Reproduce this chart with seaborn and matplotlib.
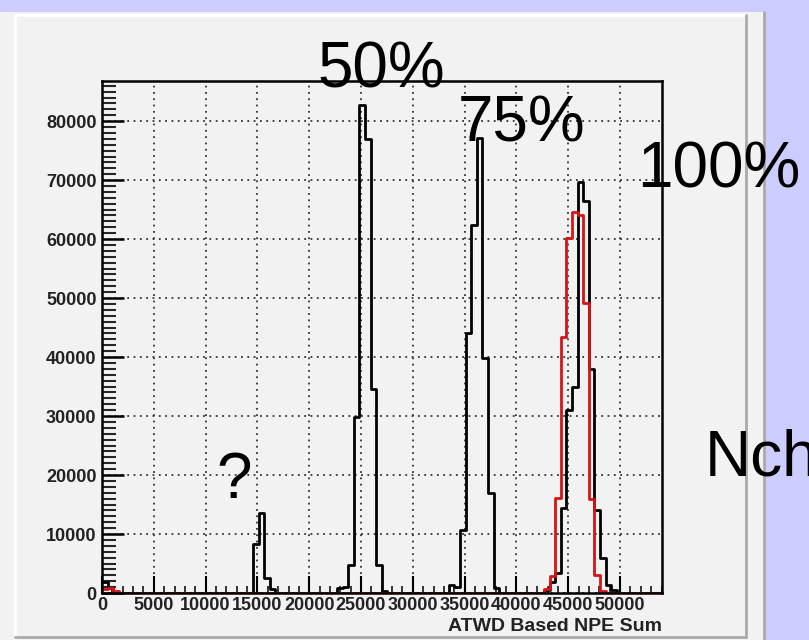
import numpy as np
import pandas as pd
import matplotlib
matplotlib.use('Agg')
import matplotlib.pyplot as plt
from matplotlib.patches import Rectangle
from matplotlib.lines import Line2D
from matplotlib.ticker import MultipleLocator
import seaborn as sns

# Histogram binning (NPE units)
x_max = 54000
n_bins = 100

# Black histogram: bin centres and counts (non-empty bins only)
black_npe = [270, 810,
             14850, 15390, 15930, 16470,
             22950, 23490, 24030, 24570, 25110, 25650, 26190, 26730, 27270,
             33750, 34290, 34830, 35370, 35910, 36450, 36990, 37530, 38070,
             42930, 43470, 44010, 44550, 45090, 45630, 46170, 46710, 47250,
             47790, 48330, 48870, 49410]
black_counts = [1800, 900,
                8300, 13600, 2500, 600,
                900, 1100, 4700, 29800, 82700, 76900, 34600, 4700, 400,
                1400, 1000, 10700, 44000, 62400, 77200, 39800, 16900, 800,
                500, 1900, 3400, 14400, 31000, 35000, 69700, 66500, 38000,
                14000, 6000, 1300, 500]

# Red histogram
red_npe = [270, 810, 1350,
           42930, 43470, 44010, 44550, 45090, 45630, 46170, 46710, 47250,
           47790, 48330]
red_counts = [700, 900, 300,
              600, 2800, 16100, 43400, 60100, 64600, 64000, 49100, 16000,
              3000, 400]

y_ticks = [0, 10000, 20000, 30000, 40000, 50000, 60000, 70000, 80000]
x_ticks = [0, 5000, 10000, 15000, 20000, 25000, 30000, 35000, 40000, 45000, 50000]

# Annotations: (text, left px, baseline px)
notes = [('50%', 318, 88), ('75%', 458, 142), ('100%', 637, 188),
         ('?', 216, 498), ('Nch', 705, 475)]

black_df = pd.DataFrame({'npe': black_npe, 'count': black_counts})
red_df = pd.DataFrame({'npe': red_npe, 'count': red_counts})

sns.set_theme(style='white')
plt.rcParams['font.family'] = ['Liberation Sans', 'DejaVu Sans']

W, H = 809, 640
fig = plt.figure(figsize=(W / 100, H / 100), dpi=100, facecolor='#ccccff')

def fx(px):
    return px / W

def fy(py):
    return 1 - py / H

# ROOT-style canvas panel with bevel
fig.patches.append(Rectangle((0, 0), fx(764), fy(12), transform=fig.transFigure,
                             facecolor='#f2f2f2', edgecolor='none', zorder=-10))
for xs, ys, c in [([15, 15], [15, 637], 'white'), ([15, 746], [15, 15], 'white'),
                  ([746, 746], [15, 637], '#aaaaaa'), ([15, 746], [637, 637], '#aaaaaa'),
                  ([764, 764], [12, 640], '#aaaaaa')]:
    fig.lines.append(Line2D([fx(v) for v in xs], [fy(v) for v in ys],
                            transform=fig.transFigure, color=c, lw=2, zorder=-5))

ax = fig.add_axes([fx(102), fy(593), fx(661.5) - fx(102), fy(81) - fy(593)])
ax.set_zorder(5)
ax.set_facecolor('#f2f2f2')

sns.histplot(data=black_df, x='npe', weights='count', bins=n_bins,
             binrange=(0, x_max), element='step', fill=False, color='black',
             linewidth=2, ax=ax)
sns.histplot(data=red_df, x='npe', weights='count', bins=n_bins,
             binrange=(0, x_max), element='step', fill=False, color='#d41515',
             linewidth=2, ax=ax)

ax.set_xlim(0, x_max)
ax.set_ylim(0, 86800)
ax.set_xticks(x_ticks)
ax.set_yticks(y_ticks)
ax.xaxis.set_minor_locator(MultipleLocator(1000))
ax.yaxis.set_minor_locator(MultipleLocator(1000))
ax.tick_params(axis='x', which='major', direction='in', length=12, width=1.5,
               labelsize=13, pad=3, colors='black', labelcolor='#222222')
ax.tick_params(axis='x', which='minor', direction='in', length=5, width=1.3)
ax.tick_params(axis='y', which='major', direction='in', length=16, width=1.8,
               labelsize=13, pad=4, colors='black', labelcolor='#222222')
ax.tick_params(axis='y', which='minor', direction='in', length=10, width=1.5)
ax.tick_params(which='both', top=False, right=False, bottom=True, left=True)
for lab in ax.get_xticklabels() + ax.get_yticklabels():
    lab.set_fontweight('bold')

ax.grid(True, which='major', linestyle=(0, (1, 2.5)), color='#333333', linewidth=1.3)
for s in ax.spines.values():
    s.set_color('black')
    s.set_linewidth(1.8)
    s.set_visible(True)

ax.set_ylabel('')
ax.set_xlabel('ATWD Based NPE Sum', loc='right', fontweight='bold', fontsize=14,
              labelpad=3, color='#222222')

for txt, px, py in notes:
    fig.text(fx(px), fy(py), txt, fontsize=46, ha='left', va='baseline',
             color='black', zorder=10)

fig.savefig('out.png', dpi=100, facecolor=fig.get_facecolor())
